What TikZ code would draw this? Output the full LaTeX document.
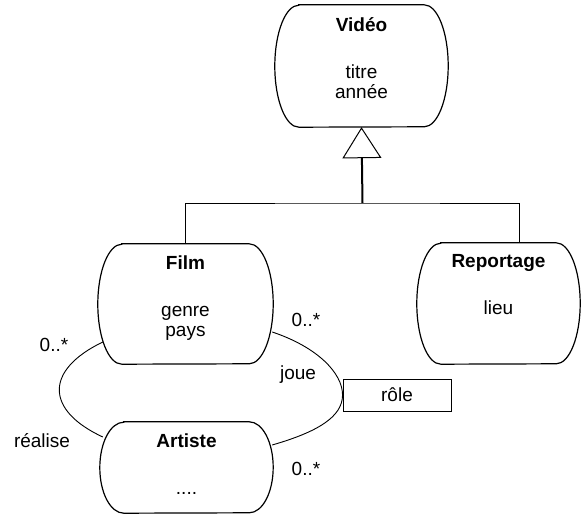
\documentclass[tikz,border=0pt]{standalone}
\usepackage{fontspec}
\setmainfont{Liberation Sans}
\usetikzlibrary{arrows.meta,calc}

\tikzset{
    boite/.style={draw=none, inner sep=0pt},
    texte/.style={align=center, inner sep=0pt, anchor=north},
    contour/.style={draw, line width=1.2pt},
    lien/.style={draw, line width=0.9pt}
}

\begin{document}
\begin{tikzpicture}[x=1pt, y=-1pt, font=\fontsize{19}{20}\selectfont]
    \useasboundingbox (0,0) rectangle (582,518);
    % classes
    \node [boite, minimum width=173pt, minimum height=122pt] at (361.5,66) (video) {};
    \node [boite, minimum width=175pt, minimum height=120pt] at (185.5,304) (film) {};
    \node [boite, minimum width=163pt, minimum height=121pt] at (498.5,303.5) (reportage) {};
    \node [boite, minimum width=173pt, minimum height=91pt] at (186.5,467.5) (artiste) {};
    \foreach \n/\ry in {video/61, film/60, reportage/60.5, artiste/45.5}
        \path [contour] ([xshift=24pt]\n.north west) -- ([xshift=-24pt]\n.north east)
            arc[start angle=90, end angle=-90, x radius=24pt, y radius=\ry pt]
            -- ([xshift=24pt]\n.south west)
            arc[start angle=270, end angle=90, x radius=24pt, y radius=\ry pt] -- cycle;
    \node [texte] at ([yshift=-13pt]video.north) (videotxt) {\textbf{Vidéo}\\[27pt]titre\\année};
    \node [texte] at ([yshift=-12pt]film.north) (filmtxt) {\textbf{Film}\\[27pt]genre\\pays};
    \node [texte] at ([yshift=-11pt]reportage.north) (reportagetxt) {\textbf{Reportage}\\[27pt]lieu};
    \node [texte] at ([yshift=-12pt]artiste.north) (artistetxt) {\textbf{Artiste}\\[27pt]....};
    \node [draw, line width=0.9pt, minimum width=108pt, minimum height=32pt] at (397,395) (role) {rôle};
    % heritage
    \coordinate (jonction) at (362.5,203);
    \path [lien] (film.north) |- (jonction) -| ([xshift=20.5pt]reportage.north);
    \path [draw, line width=2pt, -{Triangle[open, length=31pt, width=39pt, line width=1pt]}] (jonction) -- (video.south);
    % associations
    \path [lien] ($(film.west)+(5,38)$) .. controls +(-58,28) and +(-58,-27) .. ($(artiste.west)+(3,-30.5)$);
    \path [lien] ($(film.east)+(-1,28)$) .. controls +(45,15) and +(0,-22) .. (role.west)
        .. controls +(0,22) and +(45,-13) .. ($(artiste.east)+(-1,-22.5)$);
    \node at (54,345) (cardfilmr) {0..*};
    \node at (42,441) (realise) {réalise};
    \node at (306,320) (cardfilmj) {0..*};
    \node at (298,375) (joue) {joue};
    \node at (306,468.5) (cardartiste) {0..*};
\end{tikzpicture}
\end{document}
